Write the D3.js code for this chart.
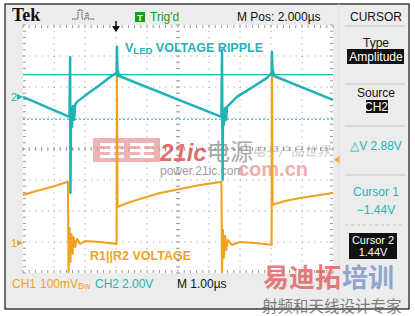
<!DOCTYPE html>
<html>
<head>
<meta charset="utf-8">
<script src="https://cdn.jsdelivr.net/npm/d3@7"></script>
<style>
  html, body { margin: 0; padding: 0; background: #fff; }
  svg { display: block; }
</style>
</head>
<body>
<svg width="415" height="316" font-family="Liberation Sans Narrow, Liberation Sans, sans-serif"></svg>
<script>
const width = 415, height = 316;

// CH2 (LED voltage, 2 V/div) - time in us, volts
const ch2Time = [0, 1.50, 1.52, 1.53, 1.55, 1.58, 1.61, 1.65, 1.68, 1.74, 2.16, 2.48, 2.81, 3.02, 3.03, 3.05, 3.06, 3.10,
  6.40, 6.42, 6.44, 6.45, 6.48, 6.52, 6.55, 6.58, 6.90, 7.42, 7.87, 8.02, 8.03, 8.05, 8.06, 8.10, 10.0];
const ch2Volts = [0, -1.29, 2.58, -6.19, -0.71, -1.94, -0.58, -1.48, -0.52, -0.32, 0.32, 0.77, 1.29, 1.55, 3.23, 1.35, 1.68, 1.35,
  -1.29, 3.03, -5.35, -0.84, -1.81, -0.71, -1.48, -0.65, 0, 0.65, 1.23, 1.55, 2.90, 1.42, 1.74, 1.35, -0.19];

// CH1 (R1||R2 voltage, 100 mV/div) - time in us, millivolts
const ch1Time = [0, 0.55, 1.03, 1.45, 1.47, 1.50, 1.53, 1.56, 1.60, 1.63, 1.68, 1.74, 1.84, 2.00, 2.48, 3.02, 3.03, 3.05,
  3.29, 3.77, 4.42, 5.06, 5.71, 6.40, 6.42, 6.45, 6.48, 6.52, 6.55, 6.61, 6.74, 7.00, 7.48, 8.02, 8.03, 8.05, 8.45, 8.94, 9.42, 10.0];
const ch1mV = [155, 171, 184, 197, -94, 48, -61, 29, -35, 19, -13, 13, -3, 6, 3, -3, 574, 116,
  126, 142, 161, 174, 187, 197, -94, 42, -48, 23, -23, 10, -6, 3, 0, -6, 616, 123, 135, 145, 152, 161];

const cursorLevels = [-1.44, 1.44];   // volts on CH2
const trigLevel = 268;                // mV on CH1

const ch2Pos = 1.68, ch2Scale = 2;    // divisions, V/div
const ch1Pos = -3.03, ch1Scale = 100; // divisions, mV/div

const teal = "#1fb3b6", orange = "#f0a21e";

const svg = d3.select("svg");

const gl = 23, gt = 25, gw = 310, gh = 248;
const x = d3.scaleLinear().domain([0, 10]).range([gl, gl + gw]);
const yDiv = d3.scaleLinear().domain([4, -4]).range([gt, gt + gh]);
const y2 = d3.scaleLinear().domain([(-4 - ch2Pos) * ch2Scale, (4 - ch2Pos) * ch2Scale]).range([gt + gh, gt]);
const y1 = d3.scaleLinear().domain([(-4 - ch1Pos) * ch1Scale, (4 - ch1Pos) * ch1Scale]).range([gt + gh, gt]);

// frame and background
svg.append("rect").attr("x", 5).attr("y", 4).attr("width", 404).attr("height", 305)
  .attr("fill", "#ececec").attr("stroke", "#111").attr("stroke-width", 1.2);
svg.append("rect").attr("x", gl).attr("y", gt).attr("width", gw).attr("height", gh).attr("fill", "#fff");

// graticule
const grid = svg.append("g").attr("stroke", "#999").attr("stroke-width", 1);
d3.range(1, 10).forEach(i => {
  grid.append("line").attr("x1", x(i)).attr("x2", x(i)).attr("y1", gt).attr("y2", gt + gh)
    .attr("stroke-dasharray", "1,5.2");
});
d3.range(-3, 4).forEach(j => {
  grid.append("line").attr("y1", yDiv(j)).attr("y2", yDiv(j)).attr("x1", gl).attr("x2", gl + gw)
    .attr("stroke-dasharray", "1,5.2");
});
// edge and centre ticks
d3.range(0, 10.01, 0.2).forEach(t => {
  [gt, gt + gh].forEach((yy, k) => grid.append("line").attr("x1", x(t)).attr("x2", x(t))
    .attr("y1", yy).attr("y2", k ? yy - 3 : yy + 3));
  grid.append("line").attr("x1", x(t)).attr("x2", x(t)).attr("y1", yDiv(0) - 2).attr("y2", yDiv(0) + 2);
});
d3.range(-4, 4.01, 0.2).forEach(d => {
  [gl, gl + gw].forEach((xx, k) => grid.append("line").attr("y1", yDiv(d)).attr("y2", yDiv(d))
    .attr("x1", xx).attr("x2", k ? xx - 3 : xx + 3));
  grid.append("line").attr("y1", yDiv(d)).attr("y2", yDiv(d)).attr("x1", x(5) - 2).attr("x2", x(5) + 2);
});

// watermark (middle)
const wm = svg.append("g").attr("opacity", 0.75);
wm.append("rect").attr("x", 93).attr("y", 138).attr("width", 67).attr("height", 24).attr("fill", "#e59a9a");
[[100, 143], [130, 143]].forEach(([bx, by]) => {
  wm.append("rect").attr("x", bx).attr("y", by).attr("width", 24).attr("height", 3).attr("fill", "#fff");
  wm.append("rect").attr("x", bx).attr("y", by + 6).attr("width", 24).attr("height", 3).attr("fill", "#fff");
  wm.append("rect").attr("x", bx).attr("y", by + 12).attr("width", 24).attr("height", 3).attr("fill", "#fff");
  wm.append("rect").attr("x", bx + 10).attr("y", by).attr("width", 4).attr("height", 15).attr("fill", "#fff");
});
wm.append("text").attr("x", 160).attr("y", 161).attr("font-family", "Liberation Sans").attr("font-weight", "bold")
  .attr("font-style", "italic").attr("font-size", 24).attr("fill", "#d9403f").text("21ic");
wm.append("text").attr("x", 207).attr("y", 160).attr("font-family", "Noto Sans CJK SC")
  .attr("font-size", 23).attr("fill", "#8a8a8a").text("电源");
wm.append("text").attr("x", 252).attr("y", 156).attr("font-family", "Noto Sans CJK SC")
  .attr("font-size", 13).attr("font-style", "italic").attr("fill", "#999").attr("opacity", 0.7).text("电子产品世界");
wm.append("text").attr("x", 160).attr("y", 175).attr("font-family", "Liberation Sans")
  .attr("font-size", 12).attr("fill", "#7a7a7a").text("power.21ic.com");
wm.append("text").attr("x", 238).attr("y", 176).attr("font-family", "Liberation Sans").attr("font-weight", "bold")
  .attr("font-size", 20).attr("fill", "#e77a7a").attr("opacity", 0.8).text("com.cn");

// cursors
svg.append("line").attr("x1", gl).attr("x2", gl + gw).attr("y1", y2(cursorLevels[1])).attr("y2", y2(cursorLevels[1]))
  .attr("stroke", teal).attr("stroke-width", 1.2);
svg.append("line").attr("x1", gl).attr("x2", gl + gw).attr("y1", y2(cursorLevels[0])).attr("y2", y2(cursorLevels[0]))
  .attr("stroke", teal).attr("stroke-width", 1.2).attr("stroke-dasharray", "2,2");

// traces
const line1 = d3.line().x((d, i) => x(ch1Time[i])).y(d => y1(d));
const line2 = d3.line().x((d, i) => x(ch2Time[i])).y(d => y2(d));
svg.append("path").datum(ch1mV).attr("d", line1).attr("fill", "none")
  .attr("stroke", orange).attr("stroke-width", 2.1).attr("stroke-linejoin", "round");
svg.append("path").datum(ch2Volts).attr("d", line2).attr("fill", "none")
  .attr("stroke", teal).attr("stroke-width", 2.5).attr("stroke-linejoin", "round");

// labels on graticule
const lbl1 = svg.append("text").attr("x", 125).attr("y", 52).attr("font-family", "Liberation Sans")
  .attr("font-weight", "bold").attr("font-size", 12.5).attr("fill", teal);
lbl1.append("tspan").text("V");
lbl1.append("tspan").attr("font-size", 9.5).attr("dy", 2).text("LED");
lbl1.append("tspan").attr("dy", -2).text(" VOLTAGE RIPPLE");
svg.append("text").attr("x", 90).attr("y", 260).attr("font-family", "Liberation Sans")
  .attr("font-weight", "bold").attr("font-size", 12.5).attr("fill", orange).text("R1||R2 VOLTAGE");

// channel markers
[[y2(0), "2", teal], [y1(0), "1", orange]].forEach(([yy, s, c]) => {
  svg.append("text").attr("x", 11).attr("y", yy + 4).attr("font-size", 11).attr("fill", c).text(s);
  svg.append("path").attr("d", `M17,${yy - 3}L23,${yy}L17,${yy + 3}Z`).attr("fill", c);
});
// trigger level (right edge) and trigger position (top)
const ty = y1(trigLevel);
svg.append("path").attr("d", `M${gl + gw + 1},${ty}L${gl + gw + 7},${ty - 4}L${gl + gw + 7},${ty + 4}Z`).attr("fill", orange);
const tx = x(3);
svg.append("path").attr("d", `M${tx - 4},${gt + 1}L${tx + 4},${gt + 1}L${tx},${gt + 7}Z`).attr("fill", "#111");
svg.append("line").attr("x1", tx).attr("x2", tx).attr("y1", gt - 4).attr("y2", gt + 2).attr("stroke", "#111").attr("stroke-width", 1.5);

// top bar
svg.append("text").attr("x", 12).attr("y", 21).attr("font-family", "Liberation Serif").attr("font-weight", "bold")
  .attr("font-size", 18).attr("fill", "#111").text("Tek");
svg.append("path").attr("d", "M72,19H78V10H82V19H86V13H88V19H95").attr("fill", "none").attr("stroke", "#444")
  .attr("stroke-width", 1).attr("stroke-dasharray", "1.5,0.8");
svg.append("rect").attr("x", 135).attr("y", 12).attr("width", 10).attr("height", 10).attr("fill", "#1a9a1a");
svg.append("text").attr("x", 140).attr("y", 21).attr("text-anchor", "middle").attr("font-size", 9)
  .attr("font-weight", "bold").attr("fill", "#fff").text("T");
svg.append("text").attr("x", 150).attr("y", 21).attr("font-size", 12).attr("fill", "#1a9a1a").text("Trig'd");
svg.append("text").attr("x", 237).attr("y", 21).attr("font-size", 12).attr("fill", "#111").text("M Pos: 2.000µs");

// side panel
const px = 376;
const pt = (yy, s, c) => svg.append("text").attr("x", px).attr("y", yy).attr("text-anchor", "middle")
  .attr("font-size", 12).attr("fill", c || "#111").text(s);
const sep = (yy, dash) => svg.append("line").attr("x1", 345).attr("x2", 405).attr("y1", yy).attr("y2", yy)
  .attr("stroke", "#c4c4c4").attr("stroke-width", 1).attr("stroke-dasharray", dash || null);
svg.append("line").attr("x1", 339).attr("x2", 339).attr("y1", 4).attr("y2", 309).attr("stroke", "#e0e0e0");
pt(21, "CURSOR");
sep(26);
pt(47, "Type");
svg.append("rect").attr("x", 347).attr("y", 49).attr("width", 57).attr("height", 15).attr("fill", "#111");
pt(61, "Amplitude", "#fff");
sep(84);
pt(97, "Source");
svg.append("rect").attr("x", 366).attr("y", 100).attr("width", 22).attr("height", 13).attr("fill", "#111");
pt(111, "CH2", "#fff");
sep(126);
pt(150, "\u25B3V 2.88V", teal);
sep(175);
pt(196, "Cursor 1", teal);
pt(214, "\u22121.44V", teal);
sep(225, "3,3");
svg.append("rect").attr("x", 349).attr("y", 233).attr("width", 48).attr("height", 26).attr("fill", "#111");
svg.append("text").attr("x", 373).attr("y", 244).attr("text-anchor", "middle").attr("font-size", 11).attr("fill", "#fff").text("Cursor 2");
svg.append("text").attr("x", 373).attr("y", 256).attr("text-anchor", "middle").attr("font-size", 11).attr("fill", "#fff").text("1.44V");

// bottom bar
const bt = (xx, s, c) => svg.append("text").attr("x", xx).attr("y", 288).attr("font-size", 12).attr("fill", c).text(s);
bt(12, "CH1", orange);
const bw = bt(40, "100mV", orange);
bw.append("tspan").attr("font-size", 9).attr("dy", 1).text("Bw");
bt(95, "CH2", teal);
bt(122, "2.00V", teal);
bt(177, "M 1.00µs", "#111");

// watermark (bottom right)
const wm2 = svg.append("g").attr("font-family", "Noto Sans CJK SC");
wm2.append("text").attr("x", 263).attr("y", 287).attr("font-size", 26).attr("font-weight", "bold")
  .attr("fill", "#e25d5d").attr("opacity", 0.8).text("易迪拓");
wm2.append("text").attr("x", 342).attr("y", 287).attr("font-size", 26).attr("font-weight", "bold")
  .attr("fill", "#6f8fc4").attr("opacity", 0.75).text("培训");
wm2.append("text").attr("x", 262).attr("y", 312).attr("font-size", 15.5)
  .attr("fill", "#6a6a6a").attr("opacity", 0.85).text("射频和天线设计专家");
</script>
</body>
</html>
